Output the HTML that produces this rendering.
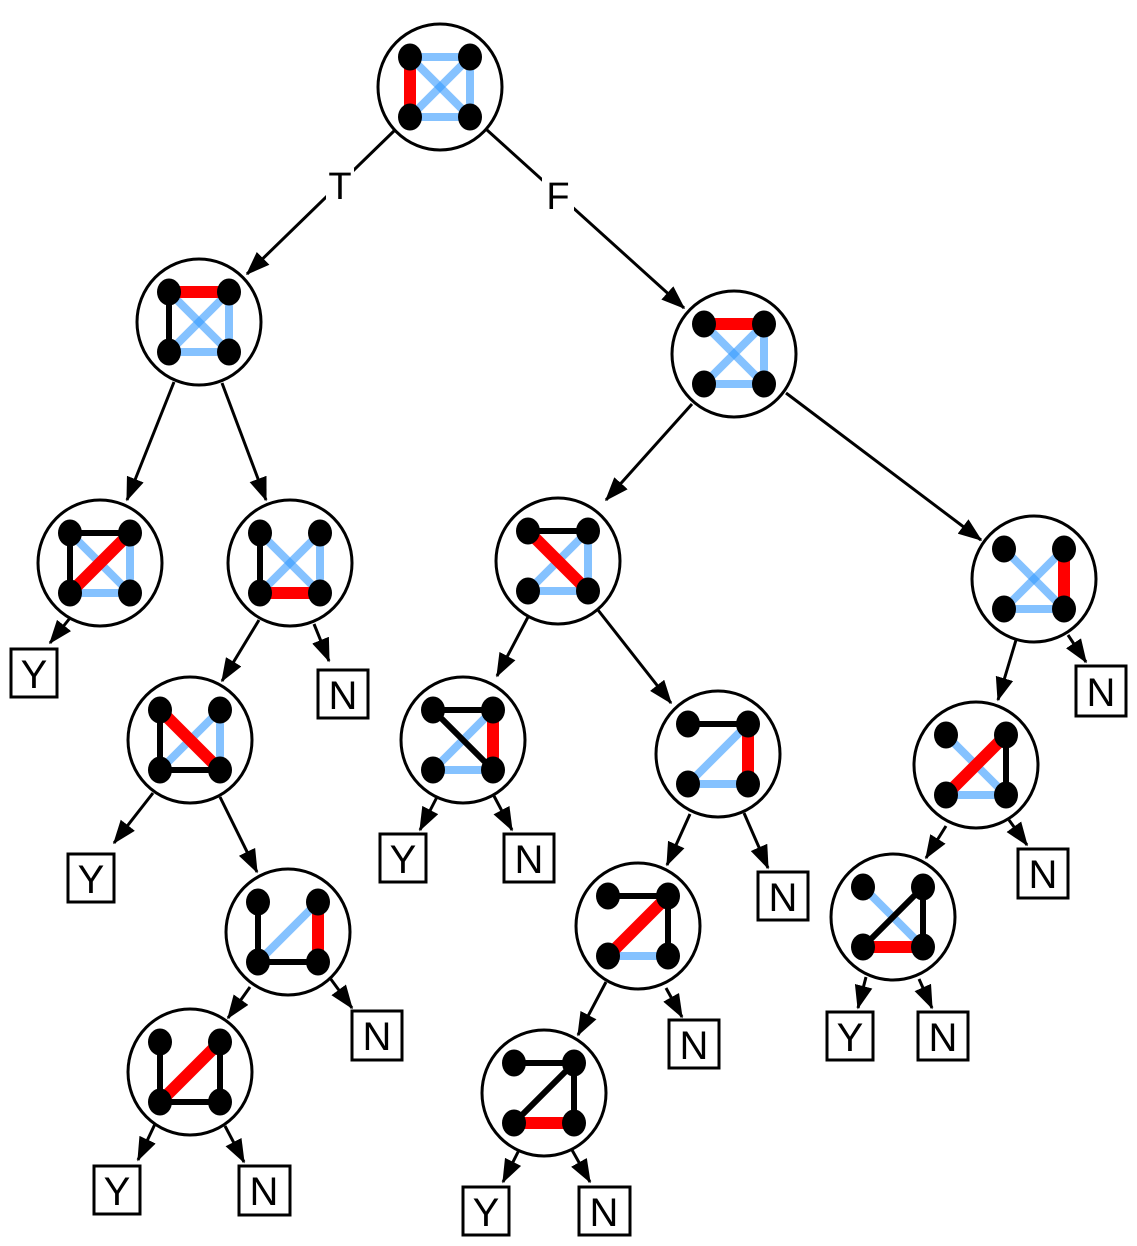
<!DOCTYPE html>
<html><head><meta charset="utf-8"><style>
html,body{margin:0;padding:0;background:#fff}
svg{display:block}
text{font-family:"Liberation Sans",sans-serif}
</style></head><body>
<svg id="s" width="1137" height="1246" viewBox="0 0 1137 1246" xmlns="http://www.w3.org/2000/svg">
<defs><marker id="ar" markerWidth="8" markerHeight="6" refX="7.5" refY="3" orient="auto" markerUnits="strokeWidth"><path d="M0,0 L8,3 L0,6 z" fill="#000"/></marker></defs>
<g id="arrows" stroke="#000" stroke-width="3" fill="none"></g>
<g id="nodes"></g>
<g font-size="38" text-anchor="middle" stroke="none" fill="#000">
<rect x="326" y="168" width="28" height="40" fill="#fff"/>
<rect x="542" y="176" width="32" height="40" fill="#fff"/>
<text x="340" y="199">T</text>
<text x="558" y="209">F</text>
</g>
<g fill="#fff" stroke="#000" stroke-width="3">
<rect x="11" y="649" width="46" height="48"/>
<rect x="318" y="670" width="50" height="48"/>
<rect x="68" y="854" width="46" height="48"/>
<rect x="352" y="1011" width="50" height="49"/>
<rect x="94" y="1166" width="46" height="48"/>
<rect x="239" y="1166" width="51" height="49"/>
<rect x="380" y="834" width="46" height="48"/>
<rect x="504" y="834" width="50" height="48"/>
<rect x="758" y="872" width="50" height="48"/>
<rect x="669" y="1020" width="50" height="48"/>
<rect x="463" y="1187" width="46" height="48"/>
<rect x="579" y="1187" width="51" height="48"/>
<rect x="1076" y="666" width="50" height="50"/>
<rect x="1018" y="849" width="50" height="49"/>
<rect x="827" y="1012" width="46" height="48"/>
<rect x="918" y="1012" width="50" height="48"/>
</g>
<g font-size="40" text-anchor="middle" fill="#000">
<text x="34" y="688">Y</text>
<text x="343" y="709">N</text>
<text x="91" y="893">Y</text>
<text x="377" y="1050">N</text>
<text x="117" y="1205">Y</text>
<text x="264" y="1205">N</text>
<text x="403" y="873">Y</text>
<text x="529" y="873">N</text>
<text x="783" y="911">N</text>
<text x="694" y="1059">N</text>
<text x="486" y="1226">Y</text>
<text x="604" y="1226">N</text>
<text x="1101" y="706">N</text>
<text x="1043" y="888">N</text>
<text x="850" y="1051">Y</text>
<text x="943" y="1051">N</text>
</g>
</svg>
<script>
var NS="http://www.w3.org/2000/svg";
function el(p,t,a){var e=document.createElementNS(NS,t);for(var k in a)e.setAttribute(k,a[k]);p.appendChild(e);return e;}
var A=document.getElementById("arrows"),G=document.getElementById("nodes");
var arrows=[[395,130,247,274],[487,130,684,308],[174,382,127,500],[222,383,266,500],[692,404,606,500],[786,393,981,540],
[70,618,50,643],[259,620,222,681],[314,624,329,661],[528,617,497,676],[598,610,671,703],[1016,640,998,700],[1068,635,1086,662],
[153,793,114,843],[220,797,257,872],[437,797,420,830],[494,796,512,830],[690,814,667,865],[744,813,768,868],
[946,826,926,858],[1009,820,1027,845],[250,987,228,1018],[330,978,352,1008],[606,982,578,1035],[666,988,682,1017],
[866,977,858,1008],[919,979,932,1008],[155,1124,138,1160],[225,1126,244,1162],[520,1148,503,1182],[572,1150,590,1182]];
arrows.forEach(function(a){el(A,"line",{x1:a[0],y1:a[1],x2:a[2],y2:a[3],"marker-end":"url(#ar)"});});
// nodes: cx,cy, red, black, blue ; a=TL b=TR c=BL d=BR
var nodes=[
[440,87,["ac"],[],["ab","cd","bd","ad","bc"]],
[199,322,["ab"],["ac"],["bd","cd","ad","bc"]],
[734,354,["ab"],[],["ad","bc","bd","cd"]],
[100,563,["bc"],["ab","ac"],["ad","bd","cd"]],
[290,563,["cd"],["ac"],["ad","bc","bd"]],
[558,561,["ad"],["ab"],["bc","bd","cd"]],
[1034,579,["bd"],[],["ad","bc","cd"]],
[190,740,["ad"],["ac","cd"],["bc","bd"]],
[463,740,["bd"],["ab","ad"],["bc","cd"]],
[718,754,["bd"],["ab"],["bc","cd"]],
[976,765,["bc"],["bd"],["ad","cd"]],
[288,932,["bd"],["ac","cd"],["bc"]],
[638,926,["bc"],["ab","bd"],["cd"]],
[893,917,["cd"],["bc","bd"],["ad"]],
[190,1072,["bc"],["ac","cd","bd"],[]],
[544,1093,["cd"],["ab","bc","bd"],[]]];
nodes.forEach(function(n){
 var cx=n[0],cy=n[1],P={a:[cx-30,cy-30],b:[cx+30,cy-30],c:[cx-30,cy+30],d:[cx+30,cy+30]};
 el(G,"ellipse",{cx:cx,cy:cy,rx:62,ry:63,fill:"#fff",stroke:"#000","stroke-width":3});
 function ln(e,col,w,op){var p=P[e[0]],q=P[e[1]];el(G,"line",{x1:p[0],y1:p[1],x2:q[0],y2:q[1],stroke:col,"stroke-width":w,"stroke-opacity":op});}
 n[4].forEach(function(e){ln(e,"#3399ff",8,0.6);});
 n[3].forEach(function(e){ln(e,"#000",6,1);});
 n[2].forEach(function(e){ln(e,"#ff0000",12,1);});
 ["a","b","c","d"].forEach(function(k){el(G,"ellipse",{cx:P[k][0],cy:P[k][1],rx:12,ry:13.5,fill:"#000"});});
});
</script>
</body></html>
